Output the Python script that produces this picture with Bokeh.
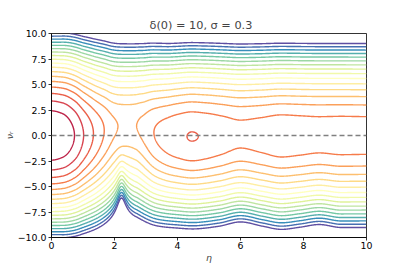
import numpy as np
from bokeh.plotting import figure
from bokeh.models import Range1d, FixedTicker, Span
from bokeh.embed import file_html
from bokeh.resources import INLINE

# ---- data: knots of the phase-space model ----
ETA_RANGE = [0.0, 10.0]
VR_RANGE = [-10.0, 10.0]

# potential along v_r = 0
V_ETA = [0.0, 0.35, 0.73, 1.02, 1.33, 1.66, 1.99, 2.15, 2.42, 2.68, 2.85, 3.26, 3.6, 4.0, 4.46, 4.9, 5.4, 6.0, 6.65, 7.3, 7.9, 8.5, 9.2, 10.0]
V_VAL = [0.0, 0.67, 2.93, 5.71, 8.49, 11.27, 13.9, 14.6, 15.0, 14.6, 13.8, 11.27, 10.0, 9.0, 8.39, 8.75, 9.45, 10.3, 9.8, 9.17, 9.4, 9.65, 9.5, 9.56]

# drift term in v_r (saturating)
B_ETA = [0.0, 0.8, 1.3, 1.8, 2.2, 2.42, 2.7, 3.0, 3.4, 3.8, 4.5, 5.3, 6.0, 6.7, 7.3, 7.9, 8.5, 9.2, 10.0]
B_VAL = [0.0, 0.0, 0.15, 0.6, 1.0, 1.1, 1.0, 0.6, 0.15, -0.05, -0.1, 0.0, 0.12, 0.03, -0.03, 0.0, 0.05, 0.0, 0.0]
B_SCALE = 3.0

# kinetic factor
A_ETA = [0.0, 0.7, 1.5, 2.2, 3.0, 4.0, 10.0]
A_VAL = [1.0, 0.96, 0.935, 0.95, 0.96, 1.0, 1.0]

# extra stiffness for v_r < 0
C_ETA = [0.0, 3.0, 4.5, 5.3, 6.0, 6.7, 7.3, 7.9, 8.5, 9.2, 10.0]
C_VAL = [0.0, 0.0, 0.0, 0.03, 0.1, 0.02, -0.03, 0.01, 0.06, 0.0, 0.0]
C_PEAK = {"eta": 2.22, "height": 0.78, "width": 0.15}

LEVEL_START = 2.93
LEVEL_STEP = 2.78
N_LEVELS = 18

X_TICKS = [0, 2, 4, 6, 8, 10]
Y_TICKS = [-10, -7.5, -5, -2.5, 0, 2.5, 5, 7.5, 10]
Y_LABELS = ["\u221210.0", "\u22127.5", "\u22125.0", "\u22122.5", "0.0", "2.5", "5.0", "7.5", "10.0"]

SPECTRAL = ['#9e0142', '#d53e4f', '#f46d43', '#fdae61', '#fee08b', '#ffffbf',
            '#e6f598', '#abdda4', '#66c2a5', '#3288bd', '#5e4fa2']


def pchip(xk, yk, x):
    xk = np.asarray(xk, float); yk = np.asarray(yk, float)
    h = np.diff(xk); d = np.diff(yk) / h
    n = len(xk); m = np.zeros(n)
    for i in range(1, n - 1):
        if d[i - 1] * d[i] > 0:
            w1 = 2 * h[i] + h[i - 1]; w2 = h[i] + 2 * h[i - 1]
            m[i] = (w1 + w2) / (w1 / d[i - 1] + w2 / d[i])
    idx = np.clip(np.searchsorted(xk, x) - 1, 0, n - 2)
    t = (x - xk[idx]) / h[idx]
    h00 = 2 * t**3 - 3 * t**2 + 1; h10 = t**3 - 2 * t**2 + t
    h01 = -2 * t**3 + 3 * t**2; h11 = t**3 - t**2
    return h00 * yk[idx] + h10 * h[idx] * m[idx] + h01 * yk[idx + 1] + h11 * h[idx] * m[idx + 1]


def hex_to_rgb(h):
    return np.array([int(h[i:i + 2], 16) for i in (1, 3, 5)], float)


def spectral(t):
    pos = t * (len(SPECTRAL) - 1)
    i = min(int(pos), len(SPECTRAL) - 2)
    f = pos - i
    c = (1 - f) * hex_to_rgb(SPECTRAL[i]) + f * hex_to_rgb(SPECTRAL[i + 1])
    return "#%02x%02x%02x" % tuple(int(round(v)) for v in c)


eta = np.linspace(ETA_RANGE[0], ETA_RANGE[1], 601)
vr = np.linspace(VR_RANGE[0], VR_RANGE[1], 601)
E, VRG = np.meshgrid(eta, vr)

Vp = pchip(V_ETA, V_VAL, eta)
Bp = pchip(B_ETA, B_VAL, eta)
Ap = pchip(A_ETA, A_VAL, eta)
Cp = pchip(C_ETA, C_VAL, eta) + C_PEAK["height"] / (1 + ((eta - C_PEAK["eta"]) / C_PEAK["width"]) ** 2)

neg = np.minimum(VRG, 0.0)
H = (0.5 * Ap[None, :] * VRG**2 + 0.5 * Cp[None, :] * neg**2
     - Bp[None, :] * B_SCALE * np.tanh(VRG / B_SCALE) + Vp[None, :])

levels = [LEVEL_START + LEVEL_STEP * k for k in range(N_LEVELS)]
colors = [spectral((k + 1) / N_LEVELS) for k in range(N_LEVELS)]

p = figure(width=407, height=271, output_backend="svg", toolbar_location=None,
           x_range=Range1d(*ETA_RANGE), y_range=Range1d(*VR_RANGE),
           min_border_left=50, min_border_right=41, min_border_top=33, min_border_bottom=34)
p.background_fill_color = "white"
p.border_fill_color = "white"
p.grid.visible = False
p.outline_line_color = "black"
p.outline_line_width = 0.8

p.contour(x=eta, y=vr, z=H, levels=levels, line_color=colors, line_width=1.4)

p.add_layout(Span(location=0, dimension="width", line_color="#808080",
                  line_width=1.4, line_dash="5 3"))

p.title.text = "\u03b4(0) = 10,    \u03c3 = 0.3"
p.title.align = "left"
p.title.offset = 98
p.title.text_font = "DejaVu Sans"
p.title.text_font_size = "11.3px"
p.title.text_font_style = "normal"
p.title.standoff = 4

for ax in (p.xaxis[0], p.yaxis[0]):
    ax.axis_line_color = "black"
    ax.axis_line_width = 0.8
    ax.major_tick_line_color = "black"
    ax.major_tick_line_width = 0.8
    ax.major_tick_in = 0
    ax.major_tick_out = 3
    ax.minor_tick_line_color = None
    ax.major_label_text_font = "DejaVu Sans"
    ax.major_label_text_font_size = "9.4px"
    ax.major_label_text_color = "black"
    ax.major_label_standoff = 2
    ax.axis_label_text_font = "DejaVu Sans"
    ax.axis_label_text_font_size = "9.4px"
    ax.axis_label_text_font_style = "italic"
    ax.axis_label_standoff = 0

p.xaxis.major_label_standoff = 1
p.xaxis.ticker = FixedTicker(ticks=X_TICKS)
p.yaxis.ticker = FixedTicker(ticks=Y_TICKS)
p.yaxis.major_label_overrides = {t: l for t, l in zip(Y_TICKS, Y_LABELS)}
p.xaxis.axis_label = "\u03b7"
p.yaxis.axis_label = "\u03bd\u1d63"

open("out.html", "w").write(file_html(p, INLINE))
